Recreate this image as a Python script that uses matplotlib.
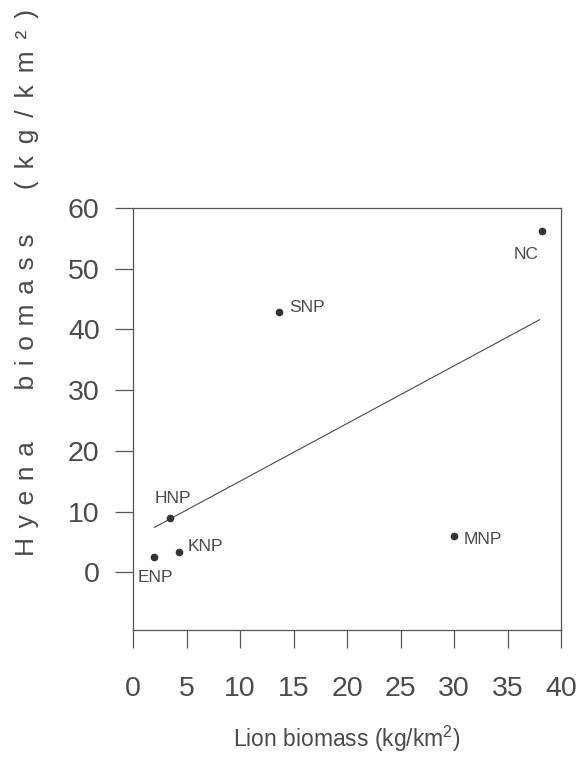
import matplotlib
matplotlib.use('Agg')
import matplotlib.pyplot as plt

# values
sites = ["NC", "SNP", "HNP", "KNP", "ENP", "MNP"]
lion = [38.2, 13.6, 3.5, 4.3, 2.0, 30.0]
hyena = [56.2, 42.8, 8.9, 3.3, 2.5, 5.9]
fit_x = [2.0, 38.0]
fit_y = [7.4, 41.6]
x_ticks = [0, 5, 10, 15, 20, 25, 30, 35, 40]
y_ticks = [0, 10, 20, 30, 40, 50, 60]

# where each site name sits relative to its dot (offset points, ha)
label_pos = {
	"NC": ((-11, -17), "center"),
	"SNP": ((8, 3.5), "left"),
	"HNP": ((2, 14), "center"),
	"KNP": ((6.5, 4), "left"),
	"ENP": ((1, -14.5), "center"),
	"MNP": ((7, -2), "left"),
}

ink = "#4a4a4a"
plt.rcParams['font.family'] = ['Liberation Sans', 'DejaVu Sans']
plt.rcParams['mathtext.fontset'] = 'custom'
plt.rcParams['mathtext.rm'] = 'Liberation Sans'
plt.rcParams['mathtext.it'] = 'Liberation Sans'

fig = plt.figure(figsize=(5.83, 7.57), dpi=100)
ax = fig.add_axes([133 / 583, 1 - 630 / 757, 428 / 583, 422 / 757])

ax.plot(fit_x, fit_y, color=ink, lw=0.8)
ax.plot(lion, hyena, "o", color="#333333", ms=4.5)

for name, x, y in zip(sites, lion, hyena):
	off, ha = label_pos[name]
	ax.annotate(name, (x, y), xytext=off, textcoords="offset points",
		ha=ha, va="center", fontsize=12.5, color=ink)

ax.set_xlim(0, 40)
ax.set_ylim(-9.5, 60)
ax.set_xticks(x_ticks)
ax.set_yticks(y_ticks)
ax.tick_params(axis="both", direction="out", length=13, width=0.9, color="#555555",
	labelsize=20.5, labelcolor=ink)
ax.tick_params(axis="x", pad=20)
ax.tick_params(axis="y", pad=11)
for s in ax.spines.values():
	s.set_color("#555555")
	s.set_linewidth(0.9)

ax.set_xlabel("Lion biomass (kg/km$^2$)", fontsize=16.5, color=ink, labelpad=16)

# the y title is letter-spaced in the original
def spaced(word, gap=" \u200a"):
	return gap.join(word)

ylab = (spaced("Hyena") + " " * 7 + spaced("biomass") + " " * 6
	+ spaced("(kg/km²)", " \u200a\u200a"))
fig.text(27 / 583, 1 - 556 / 757, ylab,
	rotation=90, ha="center", va="bottom", fontsize=19, color=ink)

plt.savefig("out.png", dpi=100)
plt.close()
